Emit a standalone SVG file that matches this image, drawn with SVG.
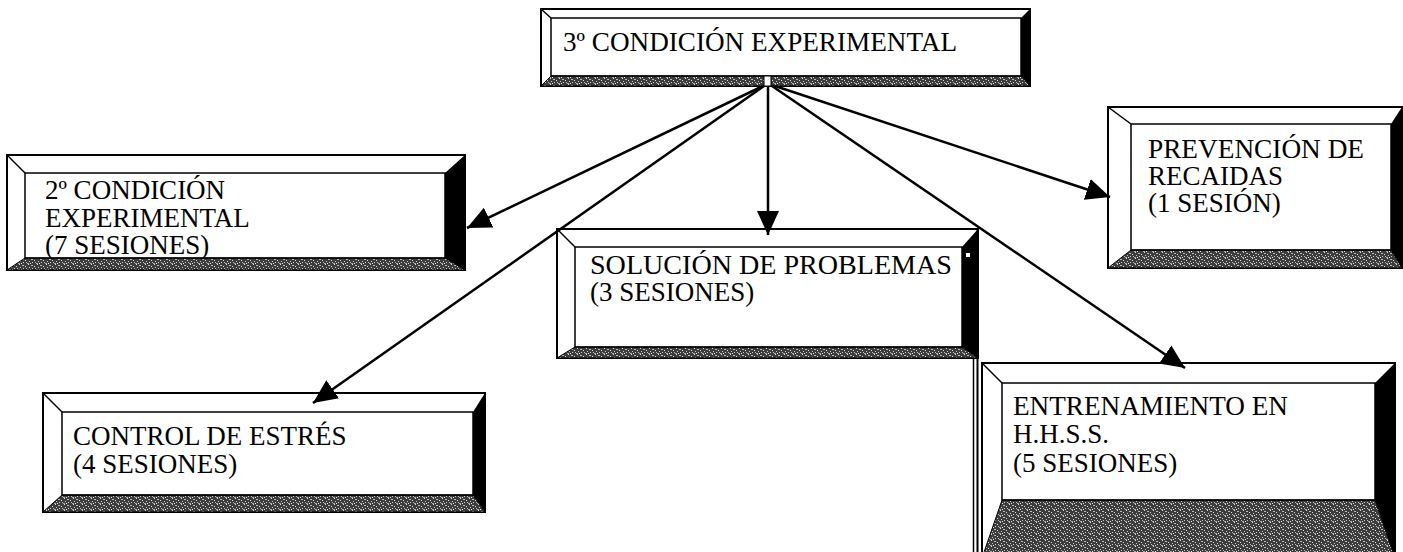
<svg xmlns="http://www.w3.org/2000/svg" width="1403" height="552" viewBox="0 0 1403 552">
<defs>
<pattern id="tex" width="9" height="6" patternUnits="userSpaceOnUse">
<rect width="9" height="6" fill="#3c3c3c"/>
<rect x="1" y="0" width="1" height="1" fill="#d8d8d8"/>
<rect x="4" y="1" width="2" height="1" fill="#bbbbbb"/>
<rect x="7" y="2" width="1" height="1" fill="#e0e0e0"/>
<rect x="2" y="3" width="1" height="1" fill="#c8c8c8"/>
<rect x="5" y="4" width="1" height="1" fill="#d0d0d0"/>
<rect x="0" y="5" width="2" height="1" fill="#aaaaaa"/>
<rect x="8" y="4" width="1" height="1" fill="#bbbbbb"/>
<rect x="3" y="5" width="1" height="1" fill="#eeeeee"/>
</pattern>
<marker id="ah" markerUnits="userSpaceOnUse" markerWidth="26" markerHeight="22" refX="24" refY="11" orient="auto">
<path d="M0,0 L24,11 L0,22 Z" fill="#000"/>
</marker>
<style>
.outer{fill:#fff;stroke:#000;stroke-width:2}
.inner{fill:none;stroke:#000;stroke-width:1.5}
.dark{fill:#000}
.band{fill:url(#tex);stroke:#000;stroke-width:1}
.diag{stroke:#000;stroke-width:1.5}
.conn{stroke:#000;stroke-width:2.5;fill:none}
text{font-family:'Liberation Serif','DejaVu Serif','Times New Roman',serif;font-size:27px;fill:#000}
</style>
</defs>
<rect width="1403" height="552" fill="#fff"/>

<g id="node-top">
<rect class="outer" x="541" y="9" width="489" height="77"/>
<polygon class="dark" points="1021,18 1030,9 1030,86 1021,76"/>
<polygon class="band" points="541,86 551,76 1021,76 1030,86"/>
<rect class="inner" x="551" y="18" width="470" height="58"/>
<line class="diag" x1="541" y1="9" x2="551" y2="18"/>
<rect x="764" y="76" width="7" height="10" fill="#fff" stroke="#000" stroke-width="1"/>
<text x="563" y="51" textLength="394" lengthAdjust="spacingAndGlyphs">3º CONDICIÓN EXPERIMENTAL</text>
</g>

<g id="node-2cond">
<rect class="outer" x="7" y="155" width="458" height="115"/>
<polygon class="dark" points="445,173 465,155 465,270 445,258"/>
<polygon class="band" points="7,270 25,258 445,258 465,270"/>
<rect class="inner" x="25" y="173" width="420" height="85"/>
<line class="diag" x1="7" y1="155" x2="25" y2="173"/>
<text x="45" y="199">2º CONDICIÓN</text>
<text x="45" y="227">EXPERIMENTAL</text>
<text x="45" y="254">(7 SESIONES)</text>
</g>

<g id="node-solucion">
<rect class="outer" x="557" y="229" width="421" height="129"/>
<polygon class="dark" points="962,247 978,229 978,358 962,347"/>
<polygon class="band" points="557,358 575,347 962,347 978,358"/>
<rect class="inner" x="575" y="247" width="387" height="100"/>
<line class="diag" x1="557" y1="229" x2="575" y2="247"/>
<rect x="966" y="253" width="4" height="4" fill="#fff"/>
<text x="590" y="274" textLength="362" lengthAdjust="spacingAndGlyphs">SOLUCIÓN DE PROBLEMAS</text>
<text x="590" y="301">(3 SESIONES)</text>
</g>

<g id="node-prevencion">
<rect class="outer" x="1108" y="107" width="294" height="161"/>
<polygon class="dark" points="1391,124 1402,107 1402,268 1391,250"/>
<polygon class="band" points="1108,268 1131,250 1391,250 1402,268"/>
<rect class="inner" x="1131" y="124" width="260" height="126"/>
<line class="diag" x1="1108" y1="107" x2="1131" y2="124"/>
<text x="1148" y="158" textLength="216" lengthAdjust="spacingAndGlyphs">PREVENCIÓN DE</text>
<text x="1148" y="185">RECAIDAS</text>
<text x="1148" y="212">(1 SESIÓN)</text>
</g>

<g id="node-control">
<rect class="outer" x="43" y="393" width="442" height="119"/>
<polygon class="dark" points="473,412 485,393 485,512 473,495"/>
<polygon class="band" points="43,512 62,495 473,495 485,512"/>
<rect class="inner" x="62" y="412" width="411" height="83"/>
<line class="diag" x1="43" y1="393" x2="62" y2="412"/>
<text x="73" y="445">CONTROL DE ESTRÉS</text>
<text x="73" y="473">(4 SESIONES)</text>
</g>

<g id="node-entrenamiento">
<rect class="outer" x="982" y="363" width="413" height="195"/>
<polygon class="dark" points="1375,383 1395,363 1395,558 1375,500"/>
<polygon class="band" points="982,558 1002,500 1375,500 1395,558"/>
<rect class="inner" x="1002" y="383" width="373" height="117"/>
<line class="diag" x1="982" y1="363" x2="1002" y2="383"/>
<text x="1013" y="415" textLength="275" lengthAdjust="spacingAndGlyphs">ENTRENAMIENTO EN</text>
<text x="1013" y="443">H.H.S.S.</text>
<text x="1013" y="472">(5 SESIONES)</text>
</g>

<g id="connectors">
<line class="conn" x1="763" y1="86" x2="467" y2="228" marker-end="url(#ah)"/>
<line class="conn" x1="764" y1="86" x2="313" y2="403" marker-end="url(#ah)"/>
<line class="conn" x1="768" y1="86" x2="768" y2="235" marker-end="url(#ah)"/>
<line class="conn" x1="772" y1="86" x2="1185" y2="368" marker-end="url(#ah)"/>
<line class="conn" x1="775" y1="86" x2="1110" y2="197" marker-end="url(#ah)"/>
<line x1="977.5" y1="229" x2="977.5" y2="552" stroke="#000" stroke-width="2"/>
<line x1="973.5" y1="358" x2="973.5" y2="552" stroke="#000" stroke-width="1.5"/>
</g>
</svg>
